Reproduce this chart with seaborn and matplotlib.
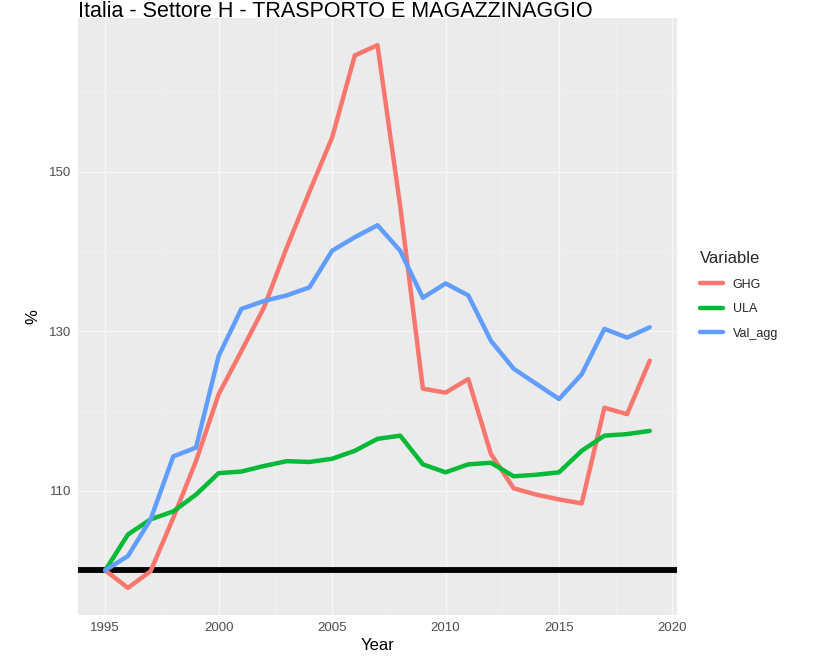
import matplotlib
matplotlib.use("Agg")
import matplotlib.pyplot as plt
import seaborn as sns
import pandas as pd
from matplotlib.ticker import FixedLocator

years = list(range(1995, 2020))
ghg = [100, 97.8, 99.9, 106.6, 113.7, 122.1, 127.5, 133.0, 140.5, 147.5, 154.3, 164.6, 165.9,
       145.7, 122.8, 122.3, 124.0, 114.6, 110.3, 109.5, 108.9, 108.4, 120.4, 119.6, 126.3]
ula = [100, 104.5, 106.4, 107.4, 109.5, 112.2, 112.4, 113.1, 113.7, 113.6, 114.0, 115.0, 116.5,
       116.9, 113.3, 112.3, 113.3, 113.5, 111.8, 112.0, 112.3, 115.0, 116.9, 117.1, 117.5]
val_agg = [100, 101.8, 106.4, 114.3, 115.4, 126.9, 132.8, 133.8, 134.5, 135.5, 140.1, 141.8, 143.3,
           140.1, 134.2, 136.0, 134.5, 128.8, 125.3, 123.4, 121.5, 124.6, 130.3, 129.2, 130.5]
variables = ["GHG", "ULA", "Val_agg"]
palette = ["#F8766D", "#00BA38", "#619CFF"]
title = "Italia - Settore H - TRASPORTO E MAGAZZINAGGIO"

df = pd.DataFrame({
    "Year": years * 3,
    "value": ghg + ula + val_agg,
    "Variable": [v for v in variables for _ in years],
})

sns.set_theme(style="darkgrid")
plt.rcParams["font.family"] = ["Liberation Sans", "DejaVu Sans"]

fig = plt.figure(figsize=(8.18, 6.72), dpi=100)
ax = fig.add_axes([78/818, 1 - 615/672, (677-78)/818, (615-18)/672])
ax.set_facecolor("#EBEBEB")

sns.lineplot(data=df, x="Year", y="value", hue="Variable", palette=palette,
             hue_order=variables, linewidth=3.2, ax=ax, legend=True)
ax.axhline(100, color="black", linewidth=4.2, zorder=1)

ax.set_xlim(1993.8, 2020.2)
ax.set_ylim(94.4, 169.3)
ax.xaxis.set_major_locator(FixedLocator([1995, 2000, 2005, 2010, 2015, 2020]))
ax.xaxis.set_minor_locator(FixedLocator([1997.5, 2002.5, 2007.5, 2012.5, 2017.5]))
ax.yaxis.set_major_locator(FixedLocator([110, 130, 150]))
ax.yaxis.set_minor_locator(FixedLocator([100, 120, 140, 160]))
ax.grid(which="major", color="#F7F7F7", linewidth=1.0)
ax.grid(which="minor", color="#F3F3F3", linewidth=0.5)
for s in ax.spines.values():
    s.set_visible(False)
ax.tick_params(axis="both", which="major", length=3, width=0.8, color="#333333",
               labelsize=9.5, labelcolor="#4D4D4D", pad=2)
ax.tick_params(axis="both", which="minor", length=0)
ax.set_xlabel("Year", fontsize=12, color="black", labelpad=3)
ax.set_ylabel("%", fontsize=12, color="black", labelpad=6)

handles, labels = ax.get_legend_handles_labels()
leg = ax.legend(handles, labels, title="Variable", loc="center left",
                bbox_to_anchor=(1.02, 0.535), frameon=False, fontsize=9,
                title_fontsize=12, handlelength=1.8, labelspacing=1.0,
                alignment="left")
for line in leg.get_lines():
    line.set_linewidth(3.2)

fig.text(78/818, 1 - 17/672, title, fontsize=15.5, va="baseline", ha="left", color="black")

fig.savefig("out.png", dpi=100)
